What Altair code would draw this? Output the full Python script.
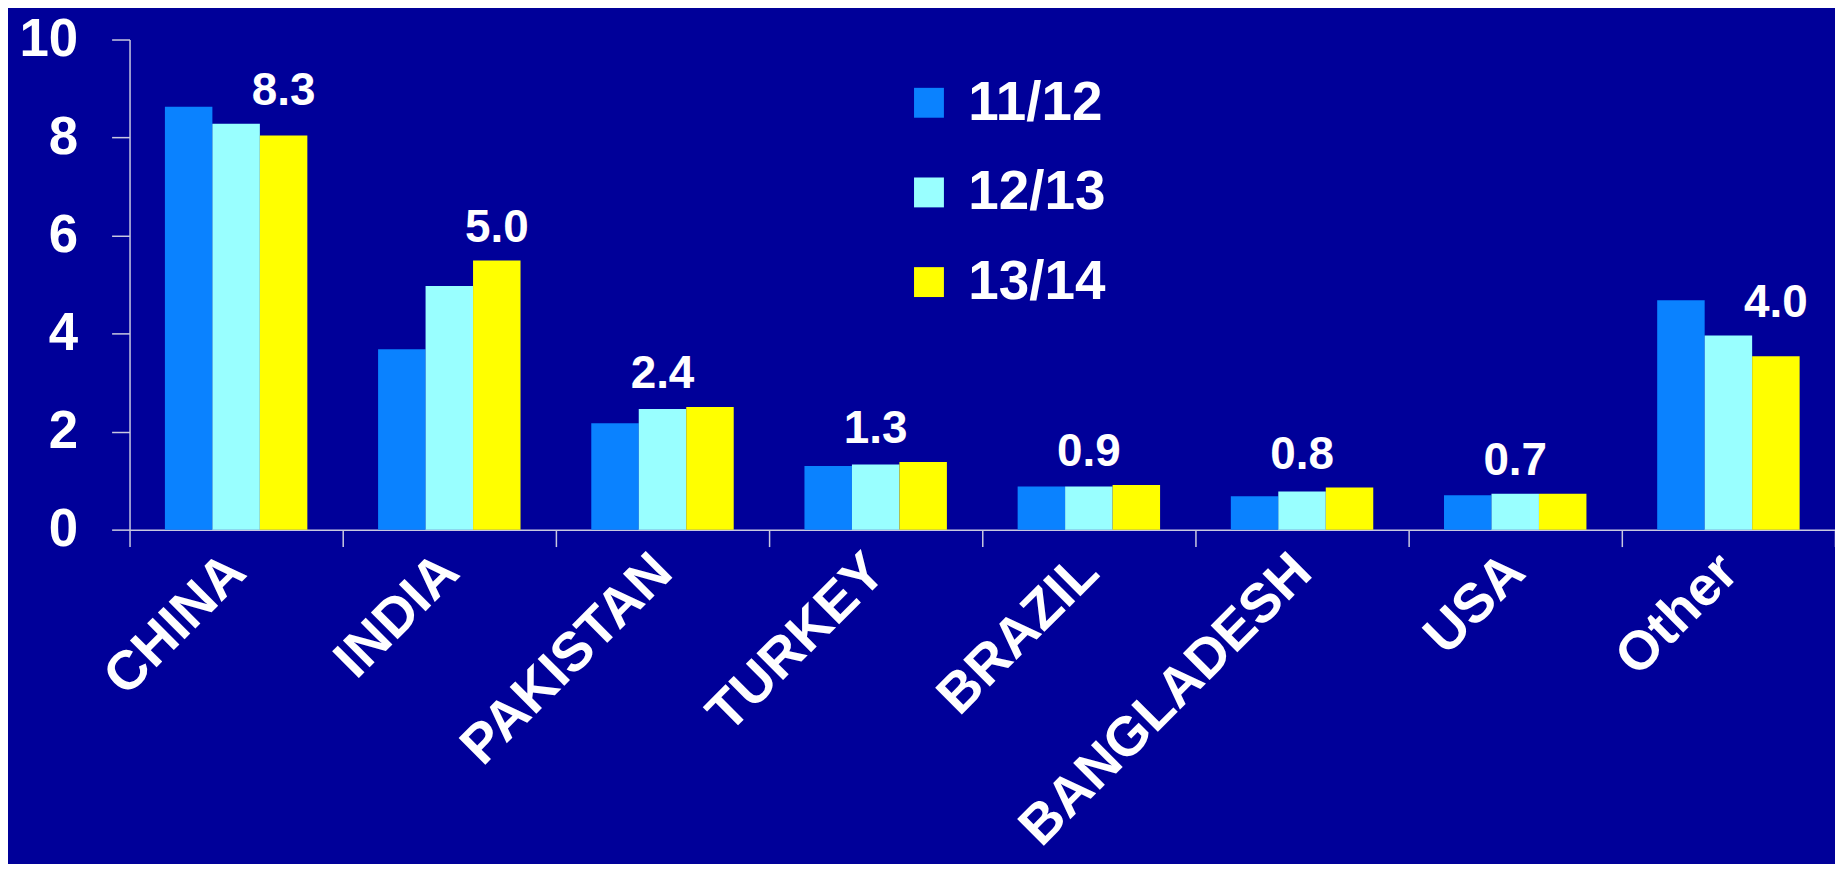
import altair as alt
import pandas as pd

countries = ["CHINA", "INDIA", "PAKISTAN", "TURKEY", "BRAZIL", "BANGLADESH", "USA", "Other"]
series = ["11/12", "12/13", "13/14"]
v_1112 = [8.63, 3.68, 2.17, 1.30, 0.88, 0.68, 0.70, 4.68]
v_1213 = [8.28, 4.97, 2.46, 1.33, 0.88, 0.78, 0.73, 3.96]
v_1314 = [8.04, 5.49, 2.50, 1.38, 0.91, 0.86, 0.73, 3.54]
labels = ["8.3", "5.0", "2.4", "1.3", "0.9", "0.8", "0.7", "4.0"]
label_series = ["13/14", "13/14", "12/13", "12/13", "12/13", "12/13", "12/13", "13/14"]
colors = ["#0A82FF", "#99FFFF", "#FFFF00"]

rows = []
for i, c in enumerate(countries):
    for s, vals in zip(series, [v_1112, v_1213, v_1314]):
        rows.append({"country": c, "series": s, "value": vals[i]})
df = pd.DataFrame(rows)

lab = pd.DataFrame({
    "country": countries,
    "series": label_series,
    "label": labels,
    "y": [max(a, b) for a, b in zip(v_1213, v_1314)],
})

FONT = "Liberation Sans"

x_enc = alt.X("country:N", sort=countries, title=None,
              scale=alt.Scale(paddingInner=0, paddingOuter=0),
              axis=alt.Axis(labelAngle=-45, labelFontSize=55, labelFontWeight="bold",
                            labelColor="white", labelFont=FONT, tickBand="extent",
                            tickSize=17, tickColor="#c8c8e0", tickWidth=1.5,
                            domainColor="#c8c8e0", domainWidth=1.5, labelPadding=16,
                            labelAlign="right", labelBaseline="middle", labelLimit=0))
xoff = alt.XOffset("series:N", sort=series,
                   scale=alt.Scale(domain=series, paddingInner=0, paddingOuter=0.745))

bars = alt.Chart(df).mark_bar().encode(
    x=x_enc,
    xOffset=xoff,
    y=alt.Y("value:Q", title=None,
            scale=alt.Scale(domain=[0, 10], nice=False),
            axis=alt.Axis(values=[0, 2, 4, 6, 8, 10], grid=False, labelFontSize=53,
                          labelFontWeight="bold", labelColor="white", labelFont=FONT,
                          tickSize=18, tickColor="#c8c8e0", tickWidth=1.5,
                          domainColor="#c8c8e0", domainWidth=1.5, labelPadding=34)),
    color=alt.Color("series:N", sort=series,
                    scale=alt.Scale(domain=series, range=colors),
                    legend=alt.Legend(title=None, orient="none", legendX=775, legendY=36,
                                      symbolType="square", symbolSize=900,
                                      symbolStrokeWidth=0, symbolOpacity=1,
                                      labelFontSize=55, labelFontWeight="bold",
                                      labelColor="white", labelFont=FONT,
                                      labelOffset=12, rowPadding=34, padding=0)),
)

text = alt.Chart(lab).mark_text(fontSize=46, fontWeight="bold", color="white", font=FONT,
                                baseline="alphabetic", dy=-19).encode(
    x=alt.X("country:N", sort=countries),
    xOffset=xoff,
    y=alt.Y("y:Q"),
    text="label:N",
)

chart = (bars + text).properties(
    width=1712, height=492,
    background="#000099",
    padding={"left": 122, "top": 30, "right": 0, "bottom": 334},
    autosize=alt.AutoSizeParams(type="none"),
).configure_view(stroke=None).configure_axis(labelFont=FONT)

chart.save("out.html", embed_options={"renderer": "svg", "actions": False})
